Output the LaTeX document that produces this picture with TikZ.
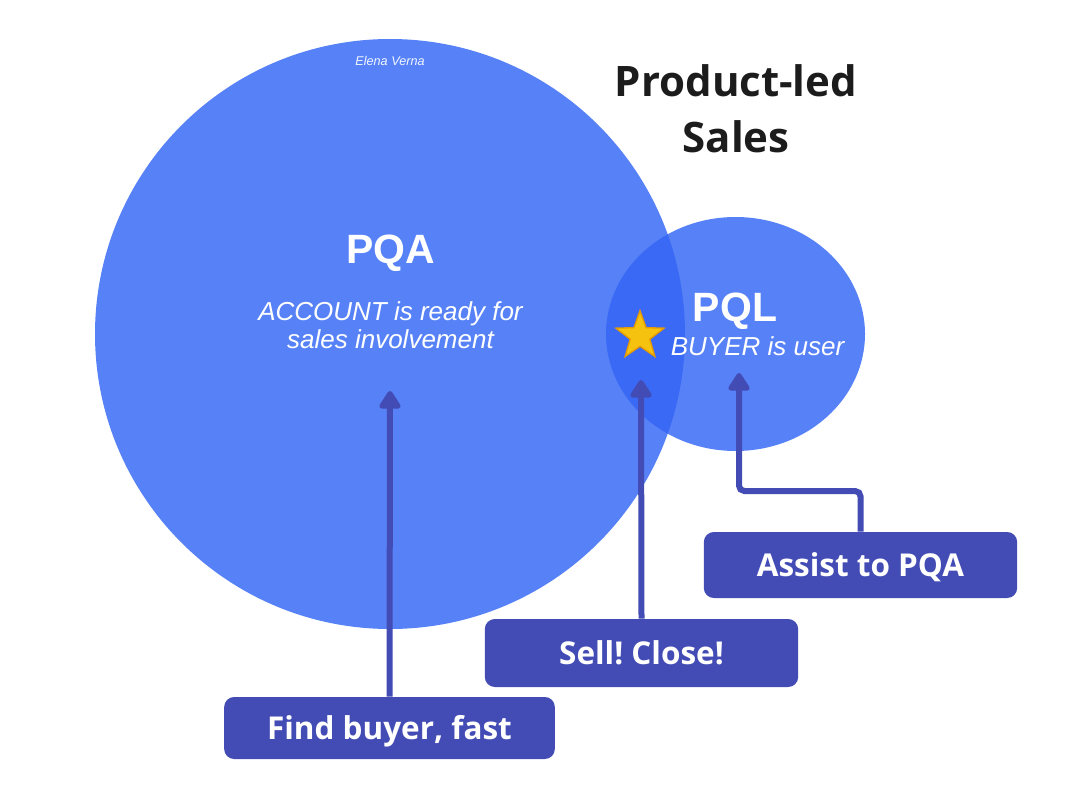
\documentclass[tikz,border=0pt]{standalone}
\usepackage{fontspec}
\setmainfont{Liberation Sans}
\newfontfamily\osans{Open Sans}
\usetikzlibrary{arrows.meta,positioning,calc,shapes.geometric}
\frenchspacing
\definecolor{cBlue}{HTML}{5782F7}
\definecolor{cMix}{HTML}{3A6AF5}
\definecolor{cBox}{HTML}{434CB5}
\definecolor{cStar}{HTML}{F4C20F}
\definecolor{cStarB}{HTML}{E69A00}
\definecolor{cTitle}{HTML}{1C1C1C}
\tikzstyle{tS}=[font=\osans\bfseries\fontsize{31.5}{42}\selectfont, text=cTitle, anchor=base, inner sep=0pt]
\tikzstyle{hS}=[font=\bfseries\fontsize{30.7}{36}\selectfont, text=white, anchor=base, inner sep=0pt]
\tikzstyle{iS}=[font=\itshape\fontsize{19.5}{21}\selectfont, text=white, anchor=base, inner sep=0pt]
\tikzstyle{sS}=[font=\itshape\fontsize{9.5}{11}\selectfont, text=white!92!cBlue, anchor=base, inner sep=0pt]
\tikzstyle{bS}=[rectangle, rounded corners=7.5pt, fill=cBox, text=white, font=\osans\bfseries\fontsize{23.6}{28}\selectfont, text height=17pt, text depth=0pt, inner sep=0pt]
\tikzstyle{eS}=[draw=cBox, line width=4.5pt, -{Triangle[length=15pt,width=18pt,round]}]
\tikzstyle{starS}=[star, star points=5, star point ratio=2.45, minimum size=38pt, inner sep=0pt, fill=cStar, draw=cStarB, line width=1pt]

\begin{document}
\begin{tikzpicture}[x=0.75pt,y=-0.75pt]
                \useasboundingbox (0,0) rectangle (1088,788);

                % circles
                \fill[cBlue] (390,334) circle (295);
                \fill[cBlue] (735.5,334) ellipse (129.5 and 117);
                \begin{scope}
                    \clip (390,334) circle (295);
                    \fill[cMix] (735.5,334) ellipse (129.5 and 117);
                \end{scope}

                \draw (736,97) node[tS] (nTitleA) {Product-led};
                \draw (736,153) node[tS] (nTitleB) {Sales};
                \draw (390,66) node[sS] (nName) {Elena Verna};

                \draw (391,263) node[hS] (nPQA) {PQA};
                \draw (390.5,320) node[iS] (nAccA) {ACCOUNT is ready for};
                \draw (390.5,348) node[iS] (nAccB) {sales involvement};
                \draw (735,321) node[hS] (nPQL) {PQL};
                \draw (757.5,355) node[iS] (nBuyer) {BUYER is user};
                \draw (640,336) node[starS] (nStar) {};

                \coordinate (tA) at (390,391);
                \coordinate (tS) at (641,380);
                \coordinate (tL) at (739,373);
                \coordinate (kL) at (739,491);

                \draw (389.5,728) node[bS, minimum width=248pt, minimum height=46.5pt] (nFind) {Find buyer, fast};
                \draw (641.5,653) node[bS, minimum width=235pt, minimum height=51pt] (nSell) {Sell! Close!};
                \draw (860.5,565) node[bS, minimum width=235pt, minimum height=49.5pt] (nAssist) {Assist to PQA};

                \draw[eS] (nFind.north) -- (tA);
                \draw[eS] (nSell.north) -- (tS);
                \draw[eS, rounded corners=4pt] (nAssist.north) |- (kL) -- (tL);

\end{tikzpicture}
\end{document}
